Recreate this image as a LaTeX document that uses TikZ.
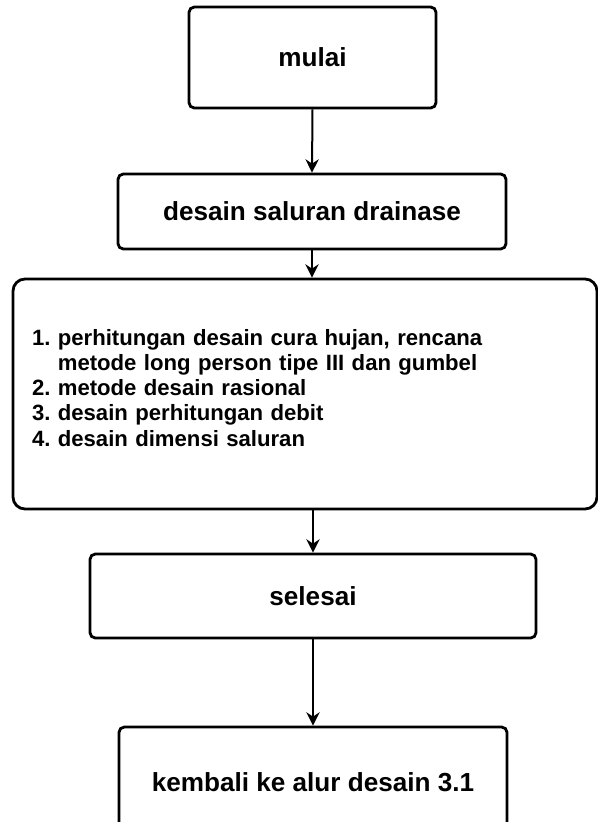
\documentclass[tikz,border=0pt]{standalone}
\usepackage{fontspec}
\setmainfont{Liberation Sans}
\usetikzlibrary{arrows.meta}
\frenchspacing

\begin{document}
\begin{tikzpicture}[x=0.75pt, y=-0.75pt,
    box/.style={draw, line width=2.1pt, rounded corners=4pt, fill=white,
        font=\bfseries\fontsize{19.6}{23}\selectfont},
    arr/.style={-{Stealth[length=10pt,width=10pt]}, line width=1.5pt}]
\useasboundingbox (0,0) rectangle (598,822);
% Draw boxes
\node[box, minimum width=185.25pt, minimum height=75.75pt] (mulai) at (312.5,57.5) {mulai};
\node[box, minimum width=291pt, minimum height=56.25pt] (desain) at (312,211.5) {desain saluran drainase};
\node[box, rounded corners=9pt, minimum width=438pt, minimum height=172.5pt,
    inner xsep=14.25pt, text width=409.5pt, align=left,
    font=\bfseries\fontsize{16.6}{18.8}\selectfont] (list) at (305,394) {%
    1. perhitungan desain cura hujan, rencana\\
    \phantom{1.}\ metode long person tipe III dan gumbel\\
    2. metode desain rasional\\
    3. desain perhitungan debit\\
    4. desain dimensi saluran\par\vspace*{9pt}\hrule height 0pt};
\node[box, minimum width=334.5pt, minimum height=63pt] (selesai) at (313,596) {selesai};
\node[box, minimum width=291pt, minimum height=82.5pt] (kembali) at (313,782) {kembali ke alur desain 3.1};
% Draw arrows
\draw[arr] (mulai.south) -- (desain.north);
\draw[arr] (desain.south) -- (desain.south |- list.north);
\draw[arr] (selesai.north |- list.south) -- (selesai.north);
\draw[arr] (selesai.south) -- (kembali.north);
\end{tikzpicture}
\end{document}
